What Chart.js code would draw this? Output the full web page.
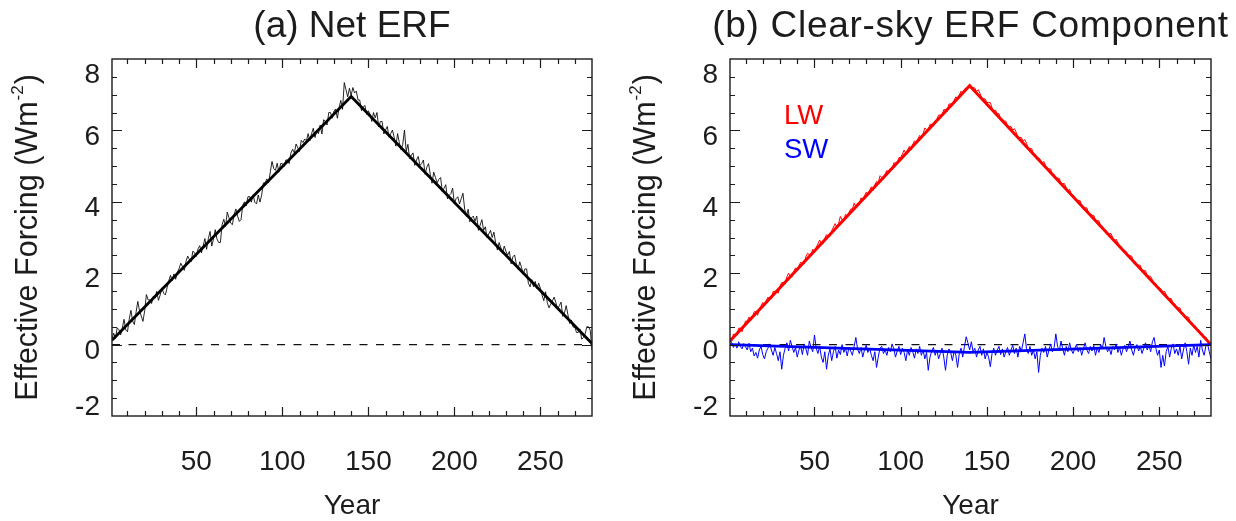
<!DOCTYPE html>
<html>
<head>
<meta charset="utf-8">
<script src="https://cdn.jsdelivr.net/npm/chart.js@4.4.1/dist/chart.umd.min.js"></script>
<style>
  body { margin: 0; background: #fff; }
  #wrap { position: relative; width: 1236px; height: 521px; }
  canvas { position: absolute; top: 0; }
  #chartA { left: 0; }
  #chartB { left: 618px; }
</style>
</head>
<body>
<div id="wrap">
  <canvas id="chartA" width="618" height="521"></canvas>
  <canvas id="chartB" width="618" height="521"></canvas>
</div>
<script>
// years 1..280 of the ramp-up / ramp-down run
const years = Array.from({ length: 280 }, (_, i) => i + 1);
const fitYears = [1, 140, 280];
const zeroYears = [1, 280];
const zeroValues = [0, 0];
const xTicks = [50, 100, 150, 200, 250];
const yTicks = [-2, 0, 2, 4, 6, 8];

// (a) net ERF, annual values and the fitted line
const netValues = [
  0.17, 0.32, 0.17, 0.47, 0.42, 0.27, 0.46, 0.71, 0.41, 0.36,
  0.71, 0.96, 0.66, 0.56, 0.91, 1.21, 0.95, 0.80, 0.65, 0.95,
  1.40, 1.25, 1.25, 1.15, 1.35, 1.30, 1.49, 1.24, 1.39, 1.59,
  1.44, 1.39, 1.59, 1.79, 1.94, 1.79, 1.98, 1.83, 2.03, 2.13,
  2.28, 2.18, 2.08, 2.33, 2.48, 2.38, 2.32, 2.62, 2.57, 2.47,
  2.68, 2.77, 2.57, 2.77, 2.97, 2.67, 2.97, 3.17, 2.76, 2.96,
  3.22, 2.96, 2.86, 2.86, 3.36, 3.51, 3.31, 3.71, 3.55, 3.40,
  3.36, 3.65, 3.80, 3.60, 3.45, 3.50, 3.90, 4.00, 3.89, 4.14,
  4.15, 3.99, 4.19, 3.99, 3.94, 4.19, 3.99, 4.19, 4.53, 4.53,
  4.64, 4.53, 4.83, 5.13, 4.93, 4.88, 5.08, 4.83, 5.07, 5.07,
  4.98, 5.17, 5.17, 5.07, 5.37, 5.47, 5.37, 5.62, 5.51, 5.41,
  5.72, 5.66, 5.76, 5.71, 5.91, 5.71, 5.91, 6.06, 5.80, 6.00,
  5.91, 6.15, 5.90, 6.30, 6.25, 6.15, 6.50, 6.50, 6.34, 6.54,
  6.60, 6.34, 6.64, 6.84, 6.59, 7.34, 7.14, 6.94, 7.18, 6.98,
  7.20, 7.05, 7.10, 6.85, 6.85, 6.55, 6.65, 6.70, 6.45, 6.55,
  6.45, 6.25, 6.50, 6.35, 6.50, 6.10, 6.25, 6.25, 5.90, 6.01,
  6.11, 5.81, 5.91, 6.01, 5.81, 5.56, 5.91, 5.66, 5.46, 5.61,
  6.01, 5.41, 5.61, 5.21, 5.31, 5.37, 5.02, 5.17, 5.27, 5.02,
  5.07, 5.17, 4.77, 4.97, 5.07, 4.77, 4.52, 4.83, 4.68, 4.53,
  4.63, 4.68, 4.28, 4.38, 4.48, 4.08, 4.18, 4.23, 4.38, 3.94,
  4.09, 4.14, 3.94, 4.09, 4.24, 3.79, 3.59, 3.79, 3.44, 3.55,
  3.60, 3.45, 3.60, 3.20, 3.35, 3.50, 3.20, 3.30, 3.00, 3.10,
  3.20, 3.00, 3.15, 2.85, 2.65, 2.86, 2.71, 2.56, 2.76, 2.61,
  2.51, 2.61, 2.26, 2.46, 2.51, 2.26, 2.11, 2.32, 2.17, 1.97,
  2.12, 2.12, 1.72, 1.62, 1.82, 1.62, 1.77, 1.57, 1.72, 1.58,
  1.38, 1.23, 1.48, 1.18, 1.03, 1.13, 1.23, 1.33, 1.18, 0.99,
  1.09, 1.19, 0.79, 0.89, 1.09, 0.84, 0.59, 0.69, 0.49, 0.49,
  0.34, 0.34, 0.44, 0.15, 0.20, 0.30, 0.50, 0.50, 0.40, -0.15
];
const netFit = [0.12, 6.95, 0.03];

// (b) clear-sky longwave component
const lwValues = [
  0.15, 0.10, 0.30, 0.25, 0.26, 0.46, 0.46, 0.36, 0.51, 0.66,
  0.66, 0.77, 0.67, 0.77, 0.92, 0.92, 0.82, 0.97, 1.08, 1.18,
  1.08, 1.23, 1.33, 1.28, 1.28, 1.49, 1.49, 1.49, 1.44, 1.64,
  1.74, 1.74, 1.70, 1.90, 2.00, 1.90, 1.90, 2.05, 2.15, 2.06,
  2.21, 2.31, 2.26, 2.26, 2.46, 2.56, 2.52, 2.52, 2.67, 2.57,
  2.72, 2.82, 2.93, 2.83, 2.83, 2.98, 3.08, 3.03, 3.03, 3.19,
  3.29, 3.39, 3.29, 3.39, 3.59, 3.49, 3.45, 3.65, 3.60, 3.70,
  3.80, 3.80, 3.96, 3.86, 3.96, 3.91, 4.11, 4.06, 4.16, 4.27,
  4.22, 4.32, 4.42, 4.32, 4.47, 4.57, 4.53, 4.73, 4.68, 4.63,
  4.78, 4.88, 4.83, 4.94, 4.89, 5.09, 5.09, 5.09, 5.24, 5.24,
  5.34, 5.45, 5.35, 5.45, 5.55, 5.45, 5.60, 5.71, 5.66, 5.76,
  5.86, 5.81, 5.91, 6.07, 6.02, 6.02, 6.17, 6.17, 6.12, 6.27,
  6.32, 6.43, 6.43, 6.43, 6.58, 6.58, 6.53, 6.74, 6.74, 6.74,
  6.84, 6.94, 6.89, 6.99, 7.10, 7.05, 7.15, 7.20, 7.20, 7.30,
  7.20, 7.20, 7.19, 7.09, 7.14, 7.04, 6.89, 6.89, 6.88, 6.78,
  6.78, 6.78, 6.63, 6.53, 6.57, 6.47, 6.47, 6.32, 6.32, 6.26,
  6.26, 6.11, 6.11, 6.11, 6.01, 6.05, 5.95, 5.80, 5.80, 5.80,
  5.70, 5.74, 5.64, 5.49, 5.49, 5.49, 5.34, 5.33, 5.23, 5.23,
  5.18, 5.08, 5.13, 5.02, 4.92, 4.92, 4.92, 4.77, 4.77, 4.66,
  4.66, 4.66, 4.51, 4.51, 4.51, 4.40, 4.30, 4.35, 4.20, 4.19,
  4.14, 4.04, 4.04, 4.04, 3.89, 3.79, 3.83, 3.83, 3.68, 3.67,
  3.62, 3.62, 3.47, 3.47, 3.47, 3.32, 3.32, 3.21, 3.21, 3.11,
  3.11, 3.11, 3.00, 2.90, 2.95, 2.85, 2.75, 2.74, 2.64, 2.64,
  2.59, 2.49, 2.49, 2.48, 2.33, 2.33, 2.23, 2.23, 2.22, 2.07,
  2.07, 2.07, 1.92, 1.92, 1.91, 1.81, 1.71, 1.71, 1.61, 1.60,
  1.55, 1.45, 1.50, 1.40, 1.30, 1.29, 1.29, 1.14, 1.14, 1.04,
  1.03, 1.03, 0.88, 0.88, 0.78, 0.78, 0.77, 0.62, 0.62, 0.52,
  0.52, 0.41, 0.41, 0.31, 0.31, 0.21, 0.21, 0.10, 0.00, 0.00
];
const lwFit = [0.10, 7.25, 0.00];

// (b) clear-sky shortwave component
const swValues = [
  0.13, 0.05, -0.08, 0.02, -0.10, 0.08, -0.05, -0.12, 0.03, -0.06,
  -0.15, 0.04, -0.20, -0.10, -0.32, -0.22, -0.38, -0.15, -0.05, -0.28,
  -0.40, -0.20, -0.10, 0.02, -0.15, -0.30, -0.08, -0.25, -0.45, -0.20,
  -0.69, -0.30, -0.10, 0.05, -0.18, 0.12, -0.05, -0.22, -0.08, -0.35,
  -0.15, -0.05, -0.28, 0.02, -0.12, -0.30, 0.10, -0.08, -0.20, 0.27,
  -0.10, -0.25, -0.05, -0.35, -0.50, -0.20, -0.69, -0.30, -0.12, -0.45,
  -0.20, -0.05, -0.38, -0.15, -0.28, 0.00, -0.22, -0.10, -0.32, -0.08,
  -0.18, -0.30, -0.05, 0.20, -0.12, -0.25, -0.08, -0.35, -0.15, -0.02,
  -0.22, -0.10, -0.30, -0.45, -0.20, -0.64, -0.35, -0.10, -0.05, -0.25,
  -0.15, -0.30, -0.08, -0.20, 0.02, -0.12, -0.35, -0.18, -0.05, -0.28,
  -0.10, -0.22, -0.45, -0.15, -0.30, -0.08, -0.20, -0.38, -0.12, -0.25,
  -0.05, -0.30, -0.15, -0.40, -0.22, -0.72, -0.35, -0.18, -0.08, -0.30,
  -0.15, -0.40, -0.25, -0.10, -0.35, -0.72, -0.30, -0.12, -0.22, -0.45,
  -0.18, -0.30, -0.64, -0.25, -0.10, -0.35, -0.05, 0.22, 0.05, -0.15,
  0.08, -0.20, -0.10, -0.35, -0.15, -0.05, -0.30, -0.12, -0.40, -0.22,
  -0.35, -0.62, -0.25, -0.10, -0.30, -0.15, -0.05, -0.28, -0.12, -0.35,
  -0.20, -0.08, -0.30, -0.15, -0.02, -0.25, -0.10, -0.35, -0.05, -0.18,
  0.05, 0.30, -0.12, -0.25, -0.05, -0.30, -0.15, -0.40, -0.20, -0.78,
  -0.30, -0.10, -0.22, -0.05, -0.35, -0.15, 0.02, -0.20, -0.08, 0.30,
  -0.05, -0.18, 0.10, -0.12, -0.30, -0.05, -0.20, 0.05, -0.15, -0.25,
  -0.10, 0.00, -0.20, -0.08, -0.30, -0.12, 0.05, -0.15, -0.25, -0.05,
  -0.18, -0.02, -0.30, -0.10, -0.22, 0.00, -0.12, 0.20, -0.05, -0.20,
  -0.10, -0.28, -0.05, -0.15, 0.02, -0.22, -0.08, -0.30, -0.12, -0.02,
  -0.20, -0.05, 0.10, -0.15, -0.30, -0.08, 0.00, -0.18, -0.05, -0.25,
  -0.10, 0.05, -0.15, -0.02, -0.20, 0.08, 0.20, -0.10, -0.30, -0.15,
  -0.64, -0.30, -0.60, -0.20, -0.05, -0.35, -0.10, 0.02, -0.25, -0.12,
  -0.30, -0.05, -0.40, -0.15, 0.05, -0.20, -0.55, -0.10, -0.30, 0.00,
  -0.22, -0.05, -0.35, 0.12, -0.15, -0.30, -0.05, 0.02, -0.20, -0.40
];
const swFit = [0.00, -0.22, 0.00];

const FONT = '"Liberation Sans", Arial, Helvetica, sans-serif';
const INK = '#1c1c1c';

function pts(xs, ys) {
  return ys.map((v, i) => ({ x: xs[i], y: v }));
}

function drawYTitle(ctx, cx, cy) {
  const main = 'Effective Forcing (Wm';
  const sup = '-2';
  const end = ')';
  ctx.save();
  ctx.translate(cx, cy);
  ctx.rotate(-Math.PI / 2);
  ctx.fillStyle = INK;
  ctx.textAlign = 'left';
  ctx.textBaseline = 'alphabetic';
  ctx.font = '30.5px ' + FONT;
  const w1 = ctx.measureText(main).width;
  const w3 = ctx.measureText(end).width;
  ctx.font = '17px ' + FONT;
  const w2 = ctx.measureText(sup).width;
  const x0 = -(w1 + w2 + w3 + 2) / 2;
  ctx.font = '30.5px ' + FONT;
  ctx.fillText(main, x0, 11);
  ctx.font = '17px ' + FONT;
  ctx.fillText(sup, x0 + w1 + 1, -3);
  ctx.font = '30.5px ' + FONT;
  ctx.fillText(end, x0 + w1 + w2 + 2, 11);
  ctx.restore();
}

function framePlugin(title, titleSpacing, labels) {
  return {
    id: 'frame',
    afterDraw(chart) {
      const { ctx, chartArea: a } = chart;
      const x = chart.scales.x, y = chart.scales.y;
      ctx.save();

      // box + inward ticks on all sides
      ctx.strokeStyle = INK;
      ctx.lineWidth = 1.4;
      ctx.strokeRect(a.left, a.top, a.right - a.left, a.bottom - a.top);
      ctx.lineWidth = 1.2;
      ctx.beginPath();
      for (let v = 10; v < 280; v += 10) {
        const px = Math.round(x.getPixelForValue(v)) + 0.5;
        const len = xTicks.includes(v) ? 9 : 5;
        ctx.moveTo(px, a.bottom); ctx.lineTo(px, a.bottom - len);
        ctx.moveTo(px, a.top); ctx.lineTo(px, a.top + len);
      }
      for (let v = -1.5; v < 8; v += 0.5) {
        const py = Math.round(y.getPixelForValue(v)) + 0.5;
        const len = yTicks.includes(v) ? 10 : 5;
        ctx.moveTo(a.left, py); ctx.lineTo(a.left + len, py);
        ctx.moveTo(a.right, py); ctx.lineTo(a.right - len, py);
      }
      ctx.stroke();

      ctx.fillStyle = INK;
      ctx.font = '28px ' + FONT;
      ctx.textBaseline = 'middle';

      // y tick labels
      ctx.textAlign = 'right';
      yTicks.forEach(v => {
        let py = y.getPixelForValue(v) + 6.5;
        py = Math.min(Math.max(py, a.top + 16), a.bottom - 9);
        ctx.fillText(String(v), a.left - 12, py);
      });

      // x tick labels
      ctx.textAlign = 'center';
      xTicks.forEach(v => {
        ctx.fillText(String(v), x.getPixelForValue(v), 462);
      });
      ctx.fillText('Year', (a.left + a.right) / 2, 506);

      // panel title
      ctx.font = '37px ' + FONT;
      ctx.textBaseline = 'alphabetic';
      ctx.letterSpacing = titleSpacing;
      ctx.fillText(title, (a.left + a.right) / 2, 37);
      ctx.letterSpacing = '0px';

      // in-plot labels
      ctx.textAlign = 'left';
      ctx.textBaseline = 'middle';
      ctx.font = '27.5px ' + FONT;
      labels.forEach(l => {
        ctx.fillStyle = l.color;
        ctx.fillText(l.text, l.x, l.y);
      });

      ctx.restore();
      drawYTitle(ctx, 26, (a.top + a.bottom) / 2);
    }
  };
}

function makeChart(id, datasets, padRight, plugin) {
  return new Chart(document.getElementById(id), {
    type: 'line',
    data: { datasets },
    options: {
      responsive: false,
      animation: false,
      events: [],
      layout: { padding: { left: 112, right: padRight, top: 59, bottom: 105 } },
      scales: {
        x: { type: 'linear', min: 1, max: 280, display: false },
        y: { type: 'linear', min: -2, max: 8, display: false }
      },
      plugins: { legend: { display: false }, tooltip: { enabled: false } },
      elements: { point: { radius: 0 }, line: { tension: 0 } }
    },
    plugins: [plugin]
  });
}

const zeroLine = {
  data: pts(zeroYears, zeroValues),
  borderColor: '#111',
  borderWidth: 1.2,
  borderDash: [8, 8.5]
};

makeChart('chartA', [
  { data: pts(fitYears, netFit), borderColor: '#000', borderWidth: 2.8 },
  { data: pts(years, netValues), borderColor: 'rgba(0,0,0,0.85)', borderWidth: 1 },
  zeroLine
], 26, framePlugin('(a) Net ERF', '0px', []));

makeChart('chartB', [
  { data: pts(fitYears, swFit), borderColor: '#0000ff', borderWidth: 2.8 },
  { data: pts(years, swValues), borderColor: '#0000ff', borderWidth: 1 },
  { data: pts(fitYears, lwFit), borderColor: '#ff0000', borderWidth: 3 },
  { data: pts(years, lwValues), borderColor: '#ff0000', borderWidth: 1 },
  Object.assign({}, zeroLine)
], 25, framePlugin('(b) Clear-sky ERF Component', '0.7px', [
  { text: 'LW', color: '#ff0000', x: 166, y: 116 },
  { text: 'SW', color: '#0000ff', x: 166, y: 150 }
]));
</script>
</body>
</html>
